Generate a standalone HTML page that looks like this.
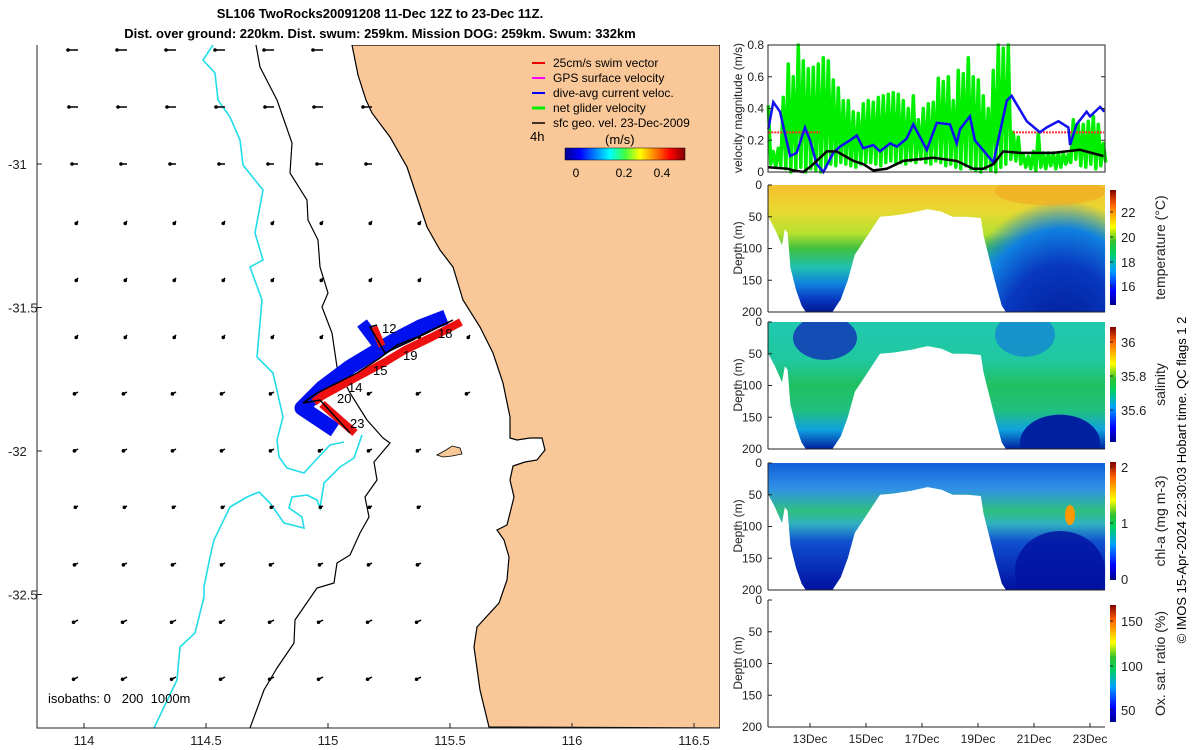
<!DOCTYPE html>
<html><head><meta charset="utf-8"><style>
body{margin:0;background:#fff}
svg{display:block;font-family:"Liberation Sans","DejaVu Sans",sans-serif}
</style></head><body>
<svg id="s" width="1200" height="750" viewBox="0 0 1200 750" xmlns="http://www.w3.org/2000/svg">
<defs>
<linearGradient id="jetH" x1="0" y1="0" x2="1" y2="0">
<stop offset="0" stop-color="#00008f"/><stop offset="0.125" stop-color="#0000ff"/><stop offset="0.375" stop-color="#00ffff"/><stop offset="0.5" stop-color="#40ff40"/><stop offset="0.625" stop-color="#ffff00"/><stop offset="0.875" stop-color="#ff0000"/><stop offset="1" stop-color="#800000"/></linearGradient>
<linearGradient id="jetV" x1="0" y1="1" x2="0" y2="0">
<stop offset="0" stop-color="#00008f"/><stop offset="0.125" stop-color="#0000ff"/><stop offset="0.3" stop-color="#00a0ff"/><stop offset="0.45" stop-color="#00d060"/><stop offset="0.55" stop-color="#30c030"/><stop offset="0.68" stop-color="#ffff00"/><stop offset="0.875" stop-color="#ff6000"/><stop offset="1" stop-color="#800000"/></linearGradient>
<linearGradient id="tGrad" x1="0" y1="0" x2="0" y2="1">
<stop offset="0" stop-color="#f5c030"/><stop offset="0.2" stop-color="#e8d830"/><stop offset="0.38" stop-color="#b8e030"/><stop offset="0.5" stop-color="#40c040"/><stop offset="0.65" stop-color="#20c0b0"/><stop offset="0.78" stop-color="#1080e0"/><stop offset="0.9" stop-color="#0838c0"/><stop offset="1" stop-color="#001890"/></linearGradient>
<linearGradient id="sGrad" x1="0" y1="0" x2="0" y2="1">
<stop offset="0" stop-color="#20c8b0"/><stop offset="0.3" stop-color="#20c8a0"/><stop offset="0.5" stop-color="#20c060"/><stop offset="0.7" stop-color="#20c080"/><stop offset="0.85" stop-color="#10a0e0"/><stop offset="1" stop-color="#0020a0"/></linearGradient>
<linearGradient id="cGrad" x1="0" y1="0" x2="0" y2="1">
<stop offset="0" stop-color="#1060d8"/><stop offset="0.2" stop-color="#3090e8"/><stop offset="0.38" stop-color="#30c080"/><stop offset="0.48" stop-color="#30b0c0"/><stop offset="0.62" stop-color="#1050d0"/><stop offset="1" stop-color="#0010a0"/></linearGradient>
<radialGradient id="tBlue" cx="0.5" cy="0.7" r="0.6">
<stop offset="0" stop-color="#001890"/><stop offset="0.55" stop-color="#0838c0"/><stop offset="0.8" stop-color="#1080e0"/><stop offset="1" stop-color="#1080e0" stop-opacity="0"/></radialGradient>
<clipPath id="mapClip"><rect x="37" y="45" width="683" height="683"/></clipPath>
</defs>

<text x="380" y="18" font-size="13" font-weight="bold" text-anchor="middle">SL106 TwoRocks20091208 11-Dec 12Z to 23-Dec 11Z.</text>
<text x="380" y="38" font-size="13" font-weight="bold" text-anchor="middle">Dist. over ground: 220km. Dist. swum: 259km. Mission DOG: 259km. Swum: 332km</text>

<g clip-path="url(#mapClip)">
<path fill="#fac898" stroke="#000" stroke-width="1.2" d="M352,45 L358,75 L366,100 L372,113 L390,137 L407,167 L417,197 L427,227 L440,250 L453,267 L463,300 L480,327 L493,353 L503,383 L510,417 L510,438 L517,440 L530,438 L542,438 L545,450 L537,460 L525,462 L513,466 L510,480 L514,497 L507,525 L497,530 L504,540 L509,557 L507,580 L499,603 L477,627 L474,647 L480,690 L489,727 L720,728 L720,45 Z"/>
<path fill="#fac898" stroke="#000" stroke-width="0.8" d="M437,455 L446,450 L452,446 L460,448 L462,454 L452,456 L443,457 Z"/>
<path fill="none" stroke="#22dde8" stroke-width="1.6" d="M213,45 L203,60 L215,73 L218,100 L230,117 L240,140 L243,165 L263,190 L255,233 L263,260 L250,267 L262,300 L257,357 L273,373 L283,417 L277,440 L279,457 L287,468 L304,473 L314,462 L330,445 L344,442 M362,435 L354,458 L340,467 L324,483 L320,508 L317,500 L307,495 L292,497 L289,508 L302,517 L304,528 L284,523 L270,503 L259,492 L247,497 L230,507 L214,540 L210,557 L204,587 L204,597 L195,633 L180,647 L177,680 L154,728"/>
<path fill="none" stroke="#000" stroke-width="1.2" d="M256,45 L260,67 L277,100 L292,143 L290,173 L307,200 L308,220 L318,240 L320,267 L328,293 L322,307 L332,333 L337,367 L350,393 L367,420 L383,438 L390,443 L374,462 L377,480 L365,497 L369,517 L360,533 L350,555 L337,563 L334,583 L317,588 L295,620 L294,643 L277,668 L264,690 L250,728"/>
<g id="arrows"></g>
<g fill="none" stroke="#0010ee" stroke-linejoin="round">
<path stroke-width="15" d="M446,317 L420,327 L395,340 L375,352 L350,367 L322,388 L302,408 L335,430"/>
<path stroke-width="12" d="M362,323 L380,347"/>
</g>
<g fill="none" stroke="#ee1010" stroke-linejoin="round">
<path stroke-width="8" d="M461,322 L432,337 L405,350 L385,362 L355,378 L322,396 L314,402"/>
<path stroke-width="8" d="M322,404 L340,420 L355,433"/>
<path stroke-width="7" d="M374,327 L382,346"/>
</g>
<path fill="none" stroke="#000" stroke-width="1.5" d="M377,325 L370,327 L385,353 L413,340 L425,333 L453,320 L423,335 L397,345 L380,358 L357,373 L317,393 L303,403 L320,400 L350,433"/>
<g font-size="13">
<text x="382" y="333">12</text><text x="438" y="338">18</text><text x="403" y="360">19</text><text x="373" y="375">15</text><text x="348" y="392">14</text><text x="337" y="403">20</text><text x="350" y="428">23</text>
</g>
</g>
<path d="M37,45 L37,728 L720,728" fill="none" stroke="#222" stroke-width="1"/>
<g id="mapTicks" font-size="13" fill="#222"></g>
<text x="48" y="703" font-size="13">isobaths: 0&#160;&#160;&#160;200&#160;&#160;1000m</text>

<g font-size="12">
<line x1="532" y1="63" x2="545" y2="63" stroke="#e00" stroke-width="2"/><text x="553" y="67">25cm/s swim vector</text>
<line x1="532" y1="78" x2="545" y2="78" stroke="#f0f" stroke-width="2"/><text x="553" y="82">GPS surface velocity</text>
<line x1="532" y1="93" x2="545" y2="93" stroke="#00f" stroke-width="2"/><text x="553" y="97">dive-avg current veloc.</text>
<line x1="532" y1="108" x2="545" y2="108" stroke="#0e0" stroke-width="3"/><text x="553" y="112">net glider velocity</text>
<line x1="532" y1="123" x2="545" y2="123" stroke="#000" stroke-width="1.5"/><text x="553" y="127">sfc geo. vel. 23-Dec-2009</text>
<text x="530" y="141" font-size="13">4h</text>
<text x="605" y="144" font-size="13">(m/s)</text>
<rect x="565" y="148" width="120" height="12" fill="url(#jetH)" stroke="#000" stroke-width="0.5"/>
<text x="576" y="177" text-anchor="middle">0</text><text x="624" y="177" text-anchor="middle">0.2</text><text x="662" y="177" text-anchor="middle">0.4</text>
</g>

<g id="vel"></g>
<g id="sections"></g>
<text transform="translate(1186,480) rotate(-90)" font-size="13" text-anchor="middle">© IMOS 15-Apr-2024 22:30:03 Hobart time. QC flags 1  2</text>
</svg>
<script>
const NS='http://www.w3.org/2000/svg';
const svg=document.getElementById('s');
function mk(tag,attrs,parent){const e=document.createElementNS(NS,tag);for(const k in attrs)e.setAttribute(k,attrs[k]);(parent||svg).appendChild(e);return e;}

const blueDays=[11.51,11.69,11.93,12.29,12.52,12.82,13.0,13.24,13.48,13.83,14.07,14.43,14.67,14.9,15.26,15.5,15.86,16.1,16.45,16.69,17.17,17.53,18.0,18.24,18.36,18.71,18.89,19.55,20.03,20.2,20.74,21.21,21.45,21.87,22.23,22.29,22.52,22.88,23.0,23.36,23.51];
const blueVals=[0.27,0.44,0.38,0.1,0.12,0.28,0.2,0.05,0.0,0.12,0.16,0.2,0.23,0.15,0.17,0.13,0.18,0.16,0.21,0.3,0.14,0.31,0.3,0.18,0.27,0.35,0.2,0.06,0.45,0.48,0.32,0.25,0.28,0.32,0.28,0.17,0.3,0.38,0.35,0.41,0.38];
const blackDays=[11.51,12.23,12.4,12.76,13.06,13.6,13.95,14.55,14.9,15.26,15.74,16.33,17.4,18.24,18.83,19.19,19.55,19.9,20.5,21.69,22.64,23.48];
const blackVals=[0.03,0.02,0.01,0.0,0.04,0.13,0.13,0.07,0.05,0.01,0.02,0.07,0.09,0.07,0.02,0.02,0.05,0.13,0.12,0.12,0.14,0.1];
const netStartDay=11.51, netStepDay=0.1786;
const netPeaks=[0.42,0.13,0.15,0.47,0.68,0.6,0.8,0.7,0.65,0.66,0.68,0.72,0.7,0.58,0.53,0.45,0.45,0.38,0.37,0.43,0.45,0.44,0.47,0.48,0.49,0.5,0.49,0.45,0.4,0.48,0.33,0.4,0.43,0.44,0.59,0.57,0.6,0.45,0.64,0.62,0.72,0.6,0.58,0.48,0.4,0.64,0.8,0.78,0.8,0.25,0.22,0.11,0.1,0.13,0.25,0.12,0.12,0.12,0.12,0.12,0.11,0.33,0.3,0.3,0.32,0.35,0.3,0.18];
const netLows=[0.05,0.03,0.04,0.02,0.0,0.02,0.03,0.0,0.02,0.01,0.0,0.03,0.05,0.04,0.06,0.05,0.04,0.03,0.05,0.06,0.06,0.05,0.04,0.06,0.07,0.05,0.06,0.05,0.07,0.06,0.08,0.06,0.05,0.07,0.06,0.04,0.05,0.03,0.02,0.04,0.02,0.01,0.0,0.02,0.01,0.0,0.03,0.05,0.08,0.07,0.05,0.03,0.02,0.01,0.03,0.02,0.04,0.02,0.03,0.05,0.06,0.08,0.04,0.03,0.05,0.02,0.04,0.06];
const swimSegments=[[11.51,13.36],[20.25,23.5]];
const swimValue=0.25;
const velTicks=[0,0.2,0.4,0.6,0.8];
const dateTicks=[13,15,17,19,21,23];
const dateLabels=['13Dec','15Dec','17Dec','19Dec','21Dec','23Dec'];
const depthTicks=[0,50,100,150,200];

const X0=768,X1=1105;
const xd=d=>810+(d-13)*28;
const vy=v=>172-v*158.75;

const vel=document.getElementById('vel');
mk('rect',{x:X0,y:45,width:X1-X0,height:127,fill:'#fff'},vel);
let gp='';
netPeaks.forEach((p,i)=>{const x=xd(netStartDay+i*netStepDay);gp+=(i?'L':'M')+x.toFixed(1)+','+vy(p).toFixed(1)+' L'+(x+2.5).toFixed(1)+','+vy(netLows[i]).toFixed(1)+' ';});
let e=mk('path',{d:gp,fill:'none',stroke:'#00ee00','stroke-width':3.5,'stroke-linejoin':'round'},vel);


swimSegments.forEach(s=>{const l=mk('line',{x1:xd(s[0]),x2:xd(s[1]),y1:vy(swimValue),y2:vy(swimValue),stroke:'#ff3030','stroke-width':2,'stroke-dasharray':'2,1'},vel);

});
e=mk('path',{d:blueDays.map((d,i)=>(i?'L':'M')+xd(d).toFixed(1)+','+vy(blueVals[i]).toFixed(1)).join(' '),fill:'none',stroke:'#1010f0','stroke-width':2.5},vel);


e=mk('path',{d:blackDays.map((d,i)=>(i?'L':'M')+xd(d).toFixed(1)+','+vy(blackVals[i]).toFixed(1)).join(' '),fill:'none',stroke:'#000','stroke-width':2.5},vel);


mk('rect',{x:X0,y:45,width:X1-X0,height:127,fill:'none',stroke:'#222'},vel);
velTicks.forEach(v=>{mk('line',{x1:X0,x2:X0+4,y1:vy(v),y2:vy(v),stroke:'#222'},vel);mk('line',{x1:X1,x2:X1-4,y1:vy(v),y2:vy(v),stroke:'#222'},vel);
const t=mk('text',{x:X0-4,y:vy(v)+4,'font-size':12,'text-anchor':'end',fill:'#222'},vel);t.textContent=v===0?'0':String(v);});
let t=mk('text',{transform:'translate(742,108) rotate(-90)','font-size':12,'text-anchor':'middle',fill:'#222'},vel);t.textContent='velocity magnitude (m/s)';

const coverDays=[11.51,11.75,12.0,12.1,12.2,12.3,12.5,12.7,12.85,13.8,14.1,14.35,14.6,15.5,16.0,16.6,17.2,17.7,18.1,18.6,19.1,19.2,19.6,19.85,20.0,23.54];
const coverDepth=[50,70,95,70,75,130,165,190,200,200,180,150,110,50,48,44,38,42,50,50,52,80,150,190,200,200];
const sec=document.getElementById('sections');
const panels=[
 {name:'temperature',top:185,grad:'tGrad',cb:[190,305],ticks:[[16,286],[18,262],[20,237],[22,212]],label:'temperature (°C)'},
 {name:'salinity',top:322,grad:'sGrad',cb:[327,442],ticks:[[36,342],[35.8,376],[35.6,410]],label:'salinity'},
 {name:'chl-a',top:463,grad:'cGrad',cb:[462,580],ticks:[[2,467],[1,523],[0,579]],label:'chl-a (mg m-3)'},
 {name:'oxygen',top:600,grad:null,cb:[605,722],ticks:[[150,621],[100,666],[50,710]],label:'Ox. sat. ratio (%)'}];
panels.forEach((p,pi)=>{
 const g=mk('g',{},sec);
 
 
 const dy=dep=>p.top+dep*0.635;
 if(p.grad){
  const d='M'+xd(coverDays[0])+','+p.top+' '+coverDays.map((c,i)=>'L'+xd(c).toFixed(1)+','+dy(coverDepth[i]).toFixed(1)).join(' ')+' L'+X1+','+p.top+' Z';
  mk('path',{d:d,fill:'url(#'+p.grad+')'},g);
  const cid='cl'+pi;const cp=mk('clipPath',{id:cid},g);mk('path',{d:d},cp);
  const cg=mk('g',{'clip-path':'url(#'+cid+')'},g);
  if(p.name==='temperature'){
   mk('ellipse',{cx:1062,cy:dy(175),rx:95,ry:120,fill:'url(#tBlue)'},cg);
   mk('ellipse',{cx:1050,cy:dy(10),rx:55,ry:14,fill:'#f0a820',opacity:0.6},cg);
  } else if(p.name==='salinity'){
   mk('ellipse',{cx:825,cy:dy(25),rx:32,ry:22,fill:'#1030b8',opacity:0.8},cg);
   mk('ellipse',{cx:1025,cy:dy(20),rx:30,ry:22,fill:'#1070e0',opacity:0.6},cg);
   mk('ellipse',{cx:1060,cy:dy(190),rx:40,ry:28,fill:'#0020a0'},cg);
  } else if(p.name==='chl-a'){
   mk('ellipse',{cx:1070,cy:dy(82),rx:5,ry:10,fill:'#ff9900'},cg);
   mk('ellipse',{cx:1060,cy:dy(170),rx:45,ry:40,fill:'#0010a0',opacity:0.8},cg);
  }
 }
 mk('line',{x1:X0,x2:X0,y1:p.top,y2:dy(200),stroke:'#222'},g);
 mk('line',{x1:X0,x2:X1,y1:dy(200),y2:dy(200),stroke:'#222'},g);
 depthTicks.forEach(dv=>{mk('line',{x1:X0,x2:X0+4,y1:dy(dv),y2:dy(dv),stroke:'#222'},g);
  const tt=mk('text',{x:X0-6,y:dy(dv)+4,'font-size':12,'text-anchor':'end',fill:'#222'},g);tt.textContent=String(dv);});
 const yl=mk('text',{transform:'translate(742,'+(p.top+63)+') rotate(-90)','font-size':12,'text-anchor':'middle',fill:'#222'},g);yl.textContent='Depth (m)';
 mk('rect',{x:1110,y:p.cb[0],width:6,height:p.cb[1]-p.cb[0],fill:'url(#jetV)'},g);
 p.ticks.forEach(tk=>{mk('line',{x1:1110,x2:1113,y1:tk[1],y2:tk[1],stroke:'#222'},g);
  const tt=mk('text',{x:1121,y:tk[1]+5,'font-size':13,fill:'#222'},g);tt.textContent=String(tk[0]);});
 const cl=mk('text',{transform:'translate(1165,'+((p.cb[0]+p.cb[1])/2)+') rotate(-90)','font-size':14,'text-anchor':'middle',fill:'#222'},g);cl.textContent=p.label;
});
dateTicks.forEach((d,i)=>{mk('line',{x1:xd(d),x2:xd(d),y1:727,y2:723,stroke:'#222'},sec);
 const tt=mk('text',{x:xd(d),y:743,'font-size':12,'text-anchor':'middle',fill:'#222'},sec);tt.textContent=dateLabels[i];});

const lonTicks=[114,114.5,115,115.5,116,116.5];
const latTicks=[-31,-31.5,-32,-32.5];
const mx=lon=>84+(lon-114)*244;
const my=lat=>164+(-31-lat)*287;
const mt=document.getElementById('mapTicks');
lonTicks.forEach(l=>{mk('line',{x1:mx(l),x2:mx(l),y1:728,y2:723,stroke:'#222'},mt);
 const tt=mk('text',{x:mx(l),y:745,'text-anchor':'middle'},mt);tt.textContent=String(l);});
latTicks.forEach(l=>{mk('line',{x1:37,x2:42,y1:my(l),y2:my(l),stroke:'#222'},mt);
 const tt=mk('text',{x:8,y:my(l)+5},mt);tt.textContent=String(l);});

const ar=document.getElementById('arrows');
const rowLen=[10,9,6,3,3,3,4,4,3,4,5,5];
for(let r=0;r<12;r++){for(let c=0;c<13;c++){
 const x=78+c*49,y=50+r*57;
 let coastX=352+(y-45)*0.45; if(y>430) coastX=470;
 if(x>coastX-6)continue;
 const ang=r<3?Math.PI*1.0:(r<6?Math.PI*0.7:Math.PI*0.85);
 const L=rowLen[r],x2=x+Math.cos(ang)*L,y2=y+Math.sin(ang)*L;
 mk('line',{x1:x,y1:y,x2:x2,y2:y2,stroke:'#000','stroke-width':1.5},ar);
 mk('circle',{cx:x2,cy:y2,r:1.8,fill:'#000'},ar);
}}
</script>
</body></html>
